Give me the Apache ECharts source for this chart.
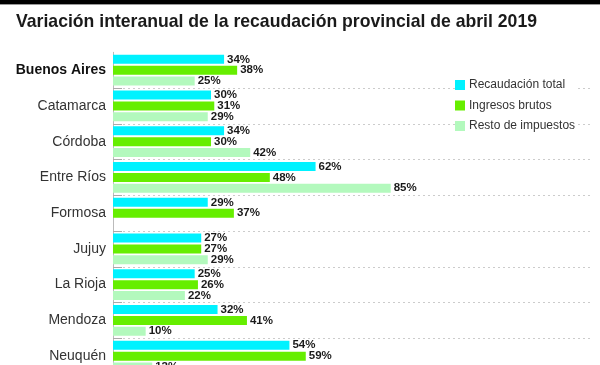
<!DOCTYPE html>
<html><head><meta charset="utf-8">
<script src="https://cdn.jsdelivr.net/npm/echarts@6/dist/echarts.min.js"></script>
<style>html,body{margin:0;padding:0;background:#fff}#c{width:600px;height:365px}</style>
</head><body><div id="c"></div>
<script>
const titleText = 'Variación interanual de la recaudación provincial de abril 2019';
const provinces = ['Buenos Aires','Catamarca','Córdoba','Entre Ríos','Formosa','Jujuy','La Rioja','Mendoza','Neuquén'];
const seriesNames = ['Recaudación total','Ingresos brutos','Resto de impuestos'];
const recaudacionTotal = [34,30,34,62,29,27,25,32,54];
const ingresosBrutos   = [38,31,30,48,37,27,26,41,59];
const restoImpuestos   = [25,29,42,85,null,29,22,10,12];
const colors = ['#00f2ff','#66ee00','#b3f9bd'];

const titleFont = 'bold 19px "Liberation Sans", Arial, sans-serif';
const cv = document.createElement('canvas').getContext('2d');
cv.font = titleFont;
const titleW = cv.measureText(titleText).width;
const titleScale = 521 / titleW;

const chart = echarts.init(document.getElementById('c'), null, {renderer:'canvas'});
const lbl = {show:true, position:'right', distance:3, formatter:'{c}%', color:'#1a1a1a', fontWeight:'bold', fontSize:11.5, fontFamily:'Liberation Sans, Arial, sans-serif'};
const mk = (name, data, color) => ({
  type:'bar', name, data, barWidth:9, barGap:'20%',
  itemStyle:{color}, label:lbl, emphasis:{disabled:true}, animation:false
});
chart.setOption({
  animation:false,
  graphic:[
    {type:'rect', shape:{x:0,y:0,width:600,height:4}, style:{fill:'#000'}},
    {type:'rect', shape:{x:0,y:4,width:600,height:1}, style:{fill:'#999'}},
    {type:'text', x:16, y:31, scaleX:titleScale, style:{text:titleText, font:titleFont, fill:'#1a1a1a', textVerticalAlign:'bottom'}}
  ],
  legend:{orient:'vertical', left:455, top:79, itemWidth:10, itemHeight:10, itemGap:8.5,
    icon:'rect', backgroundColor:'#fff', padding:[0,0,0,0],
    textStyle:{fontSize:12, color:'#333', fontFamily:'Liberation Sans, Arial, sans-serif', padding:[0,0,0,-1]},
    data:seriesNames},
  grid:{left:113, top:52.3, width:477, height:321.7, containLabel:false, outerBoundsMode:'none'},
  xAxis:{type:'value', min:0, max:146, show:false},
  yAxis:{type:'category', data:provinces, inverse:true,
    axisLine:{show:true, lineStyle:{color:'#bbb', width:1}},
    axisTick:{show:true, inside:true, length:9, interval:(i)=> i>0, lineStyle:{color:'#aaa'}},
    splitLine:{show:true, interval:(i)=> i>0, lineStyle:{color:'#ccc', type:[2,3], width:1}},
    axisLabel:{margin:7, fontSize:14, color:'#333', fontFamily:'Liberation Sans, Arial, sans-serif',
      formatter:(v)=> v==='Buenos Aires' ? '{b|'+v+'}' : v,
      rich:{b:{fontWeight:'bold', fontSize:14, color:'#111', fontFamily:'Liberation Sans, Arial, sans-serif'}}}
  },
  series:[
    mk(seriesNames[0], recaudacionTotal, colors[0]),
    mk(seriesNames[1], ingresosBrutos, colors[1]),
    mk(seriesNames[2], restoImpuestos, colors[2])
  ]
});
</script></body></html>
